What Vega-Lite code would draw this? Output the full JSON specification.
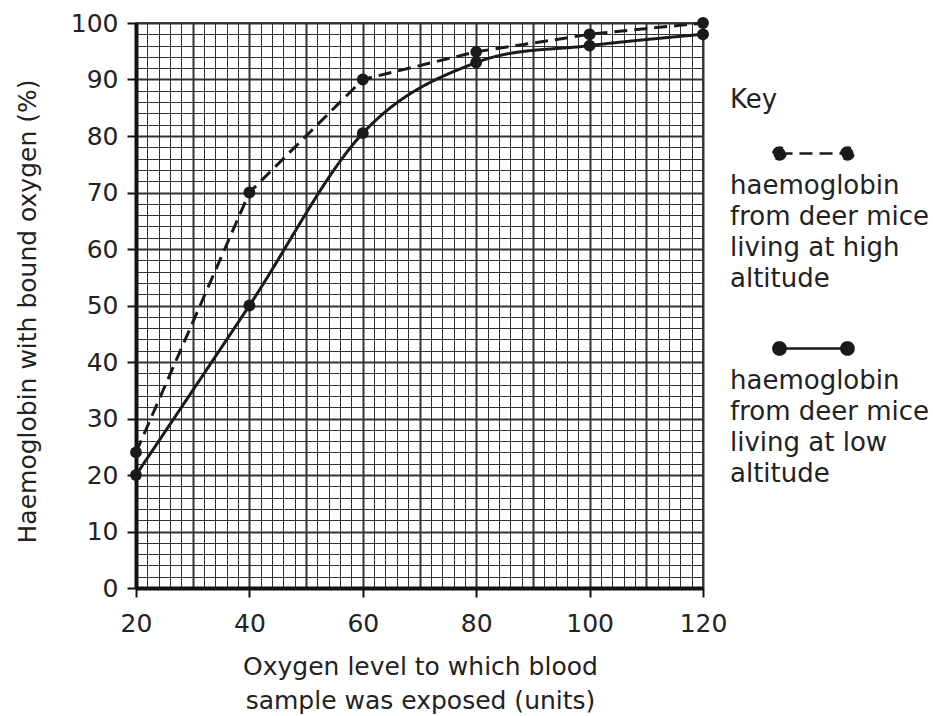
{
  "$schema": "https://vega.github.io/schema/vega-lite/v6.json",
  "width": 567,
  "height": 565,
  "autosize": {"type": "none"},
  "padding": {"left": 136, "top": 23, "right": 230, "bottom": 128},
  "background": "white",
  "config": {
    "view": {"stroke": "#111", "strokeWidth": 1.5},
    "font": "DejaVu Sans"
  },
  "data": {
    "values": [
      {"oxygen": 20, "bound": 24, "altitude": "high"},
      {"oxygen": 40, "bound": 70, "altitude": "high"},
      {"oxygen": 60, "bound": 90, "altitude": "high"},
      {"oxygen": 80, "bound": 94.9, "altitude": "high"},
      {"oxygen": 100, "bound": 98, "altitude": "high"},
      {"oxygen": 120, "bound": 100, "altitude": "high"},
      {"oxygen": 20, "bound": 20, "altitude": "low"},
      {"oxygen": 40, "bound": 50, "altitude": "low"},
      {"oxygen": 60, "bound": 80.5, "altitude": "low"},
      {"oxygen": 80, "bound": 93, "altitude": "low"},
      {"oxygen": 100, "bound": 96, "altitude": "low"},
      {"oxygen": 120, "bound": 98, "altitude": "low"}
    ]
  },
  "encoding": {
    "x": {
      "field": "oxygen",
      "type": "quantitative",
      "scale": {"domain": [20, 120], "nice": false, "zero": false},
      "axis": {
        "values": [20,22,24,26,28,30,32,34,36,38,40,42,44,46,48,50,52,54,56,58,60,62,64,66,68,70,72,74,76,78,80,82,84,86,88,90,92,94,96,98,100,102,104,106,108,110,112,114,116,118,120],
        "labelExpr": "datum.value % 20 === 0 ? datum.label : ''",
        "labelOverlap": false,
        "labelFlush": false,
        "grid": true,
        "gridColor": "#333",
        "gridOpacity": 1,
        "gridWidth": {"condition": {"test": "datum.value % 10 === 0", "value": 2}, "value": 1},
        "tickOpacity": {"condition": {"test": "datum.value % 20 === 0", "value": 1}, "value": 0},
        "tickSize": 9,
        "tickWidth": 2,
        "tickColor": "#111",
        "domainColor": "#111",
        "domainWidth": 4,
        "labelFontSize": 25,
        "labelColor": "#222",
        "labelPadding": 14,
        "title": ["Oxygen level to which blood", "sample was exposed (units)"],
        "titleFontSize": 25,
        "titleFontWeight": "normal",
        "titleColor": "#222",
        "titleLineHeight": 34,
        "titleBaseline": "top",
        "titleY": 66,
        "titleX": 284,
        "titleAlign": "center"
      }
    },
    "y": {
      "field": "bound",
      "type": "quantitative",
      "scale": {"domain": [0, 100], "nice": false},
      "axis": {
        "values": [0,2,4,6,8,10,12,14,16,18,20,22,24,26,28,30,32,34,36,38,40,42,44,46,48,50,52,54,56,58,60,62,64,66,68,70,72,74,76,78,80,82,84,86,88,90,92,94,96,98,100],
        "labelExpr": "datum.value % 10 === 0 ? datum.label : ''",
        "labelOverlap": false,
        "labelFlush": false,
        "grid": true,
        "gridColor": "#333",
        "gridOpacity": 1,
        "gridWidth": {"condition": {"test": "datum.value % 10 === 0", "value": 2}, "value": 1},
        "tickOpacity": {"condition": {"test": "datum.value % 10 === 0", "value": 1}, "value": 0},
        "tickSize": 9,
        "tickWidth": 2,
        "tickColor": "#111",
        "domainColor": "#111",
        "domainWidth": 4,
        "labelFontSize": 25,
        "labelColor": "#222",
        "labelPadding": 9,
        "title": "Haemoglobin with bound oxygen (%)",
        "titleFontSize": 25,
        "titleFontWeight": "normal",
        "titleColor": "#222",
        "titleAngle": -90,
        "titleBaseline": "alphabetic",
        "titleAlign": "center",
        "titleX": -101,
        "titleY": 288
      }
    }
  },
  "layer": [
    {
      "transform": [{"filter": "datum.altitude === 'high'"}],
      "mark": {"type": "line", "interpolate": "linear", "strokeWidth": 3, "color": "#1a1a1a"},
      "encoding": {
        "strokeDash": {
          "field": "altitude",
          "type": "nominal",
          "scale": {"domain": ["high", "low"], "range": [[13, 7], [1, 0]]},
          "legend": {
            "orient": "none",
            "legendX": 594,
            "legendY": 64,
            "title": "Key",
            "titleFontSize": 26,
            "titleFontWeight": "normal",
            "titleColor": "#222",
            "titlePadding": 5,
            "labelFontSize": 26,
            "labelColor": "#222",
            "labelBaseline": "top",
            "labelLimit": 400,
            "labelExpr": "datum.value == 'high' ? ['haemoglobin', 'from deer mice', 'living at high', 'altitude'] : ['haemoglobin', 'from deer mice', 'living at low', 'altitude']",
            "symbolType": "M-1,0L1,0M-1.18,0A0.18,0.18,0,1,1,-0.82,0A0.18,0.18,0,1,1,-1.18,0ZM0.82,0A0.18,0.18,0,1,1,1.18,0A0.18,0.18,0,1,1,0.82,0Z",
            "symbolSize": 4624,
            "symbolStrokeWidth": 2.5,
            "symbolStrokeColor": "#1a1a1a",
            "symbolFillColor": "#1a1a1a",
            "symbolOffset": 48,
            "labelOffset": -119,
            "rowPadding": 21,
            "encode": {
              "labels": {"update": {"dy": {"value": 19}, "lineHeight": {"value": 31}}},
              "symbols": {"update": {"fill": {"value": "#1a1a1a"}, "stroke": {"value": "#1a1a1a"}}}
            }
          }
        }
      }
    },
    {
      "transform": [{"filter": "datum.altitude === 'low'"}],
      "mark": {"type": "line", "interpolate": "cardinal", "strokeWidth": 3, "color": "#1a1a1a"},
      "encoding": {
        "strokeDash": {"field": "altitude", "type": "nominal"}
      }
    },
    {
      "mark": {"type": "circle", "size": 140, "color": "#1a1a1a", "opacity": 1},
      "encoding": {}
    }
  ]
}
